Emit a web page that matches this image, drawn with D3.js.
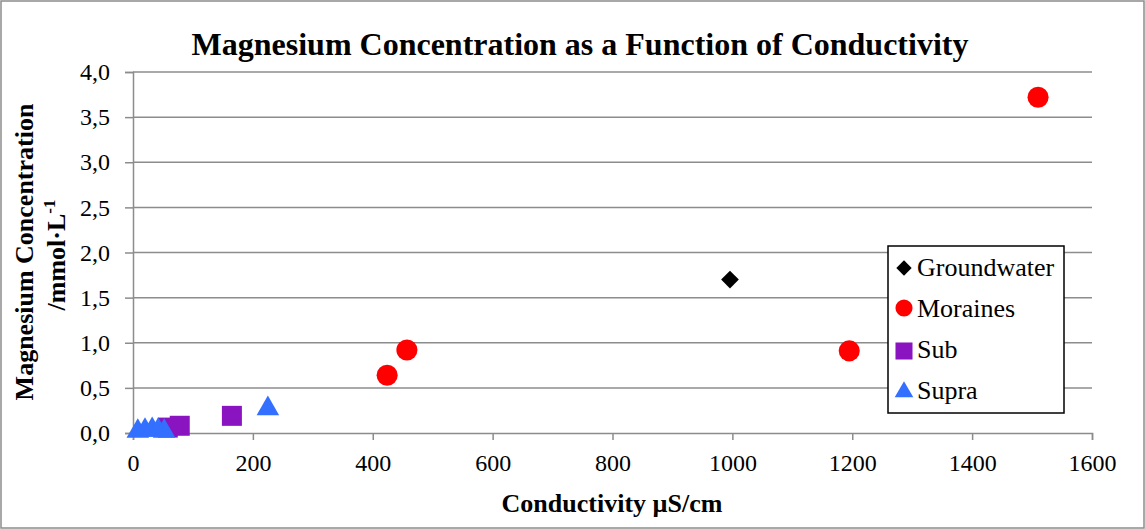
<!DOCTYPE html>
<html>
<head>
<meta charset="utf-8">
<script src="https://cdn.jsdelivr.net/npm/d3@7"></script>
<style>
  body { margin: 0; background: #fff; }
  text { font-family: "Liberation Serif", "Times New Roman", serif; }
</style>
</head>
<body>
<svg id="chart" width="1145" height="529"></svg>
<script>
// ---- Data ----
const seriesNames = ["Groundwater", "Moraines", "Sub", "Supra"];
const groundwaterX = [996];
const groundwaterY = [1.70];
const morainesX = [1510, 1195, 457, 424];
const morainesY = [3.72, 0.91, 0.92, 0.64];
const subX = [58, 78, 165];
const subY = [0.06, 0.08, 0.19];
const supraX = [8, 20, 32, 42, 52, 225];
const supraY = [0.02, 0.03, 0.04, 0.03, 0.02, 0.27];
const xTicks = [0, 200, 400, 600, 800, 1000, 1200, 1400, 1600];
const yTicks = [0, 0.5, 1.0, 1.5, 2.0, 2.5, 3.0, 3.5, 4.0];

const colors = { Groundwater: "#000000", Moraines: "#ff0000", Sub: "#8a14c0", Supra: "#3370ff" };
const shapes = { Groundwater: d3.symbolDiamond2, Moraines: d3.symbolCircle, Sub: d3.symbolSquare, Supra: d3.symbolTriangle };

const series = [
  { name: "Groundwater", x: groundwaterX, y: groundwaterY },
  { name: "Moraines", x: morainesX, y: morainesY },
  { name: "Sub", x: subX, y: subY },
  { name: "Supra", x: supraX, y: supraY }
];

const svg = d3.select("#chart");
const W = 1145, H = 529;

// outer border
svg.append("rect").attr("x", 1).attr("y", 1).attr("width", W - 2).attr("height", H - 2)
  .attr("fill", "#fff").attr("stroke", "#8c8c8c").attr("stroke-width", 1.5);

const mLeft = 133, mRight = 1092, mTop = 72, mBottom = 433;
const x = d3.scaleLinear().domain([0, 1600]).range([mLeft, mRight]);
const y = d3.scaleLinear().domain([0, 4]).range([mBottom, mTop]);

// gridlines
svg.append("g").selectAll("line").data(yTicks.filter(d => d > 0)).join("line")
  .attr("x1", mLeft).attr("x2", mRight)
  .attr("y1", d => y(d)).attr("y2", d => y(d))
  .attr("stroke", "#8c8c8c").attr("stroke-width", 1.5);

const fmt = d => d3.format(".1f")(d).replace(".", ",");

// y axis
const yAxis = svg.append("g").attr("transform", `translate(${mLeft},0)`)
  .call(d3.axisLeft(y).tickValues(yTicks).tickFormat(fmt).tickSize(8).tickPadding(15));
// x axis
const xAxis = svg.append("g").attr("transform", `translate(0,${mBottom})`)
  .call(d3.axisBottom(x).tickValues(xTicks).tickFormat(d3.format("d")).tickSize(7).tickPadding(14));

[yAxis, xAxis].forEach(g => {
  g.attr("font-size", 24).attr("font-family", "'Liberation Serif', serif");
  g.selectAll("path, line").attr("stroke", "#8c8c8c").attr("stroke-width", 1.5);
  g.selectAll("text").attr("fill", "#000");
});

// points
const sizes = { Groundwater: 200, Moraines: 350, Sub: 400, Supra: 220 };
series.forEach(s => {
  const pts = s.x.map((v, i) => ({ x: v, y: s.y[i] }));
  svg.append("g").selectAll("path").data(pts).join("path")
    .attr("d", d3.symbol().type(shapes[s.name]).size(sizes[s.name]))
    .attr("transform", d => `translate(${x(d.x)},${y(d.y)})`)
    .attr("fill", colors[s.name]);
});

// title
svg.append("text").attr("x", 580).attr("y", 55).attr("text-anchor", "middle")
  .attr("font-size", 32).attr("font-weight", "bold").text("Magnesium Concentration as a Function of Conductivity");

// x label
svg.append("text").attr("x", 612).attr("y", 512).attr("text-anchor", "middle")
  .attr("font-size", 26).attr("font-weight", "bold").text("Conductivity µS/cm");

// y label (two lines)
const yl = svg.append("text").attr("transform", `translate(33,252) rotate(-90)`)
  .attr("text-anchor", "middle").attr("font-size", 26).attr("font-weight", "bold");
yl.append("tspan").attr("x", 0).attr("dy", 0).text("Magnesium Concentration");
const l2 = yl.append("tspan").attr("x", -3).attr("dy", 32);
l2.append("tspan").text("/mmol·L");
l2.append("tspan").attr("font-size", 17).attr("dy", -10).text("-1");

// legend
const lg = svg.append("g");
lg.append("rect").attr("x", 888).attr("y", 246).attr("width", 176).attr("height", 167)
  .attr("fill", "#fff").attr("stroke", "#000").attr("stroke-width", 1.5);
const legSizes = { Groundwater: 150, Moraines: 230, Sub: 290, Supra: 150 };
const legMarkY = [268, 308, 351, 392];
seriesNames.forEach((n, i) => {
  lg.append("path").attr("d", d3.symbol().type(shapes[n]).size(legSizes[n]))
    .attr("transform", `translate(${904},${legMarkY[i]})`).attr("fill", colors[n]);
  lg.append("text").attr("x", 917).attr("y", 276 + i * 41).attr("font-size", 26).text(n);
});
</script>
</body>
</html>
